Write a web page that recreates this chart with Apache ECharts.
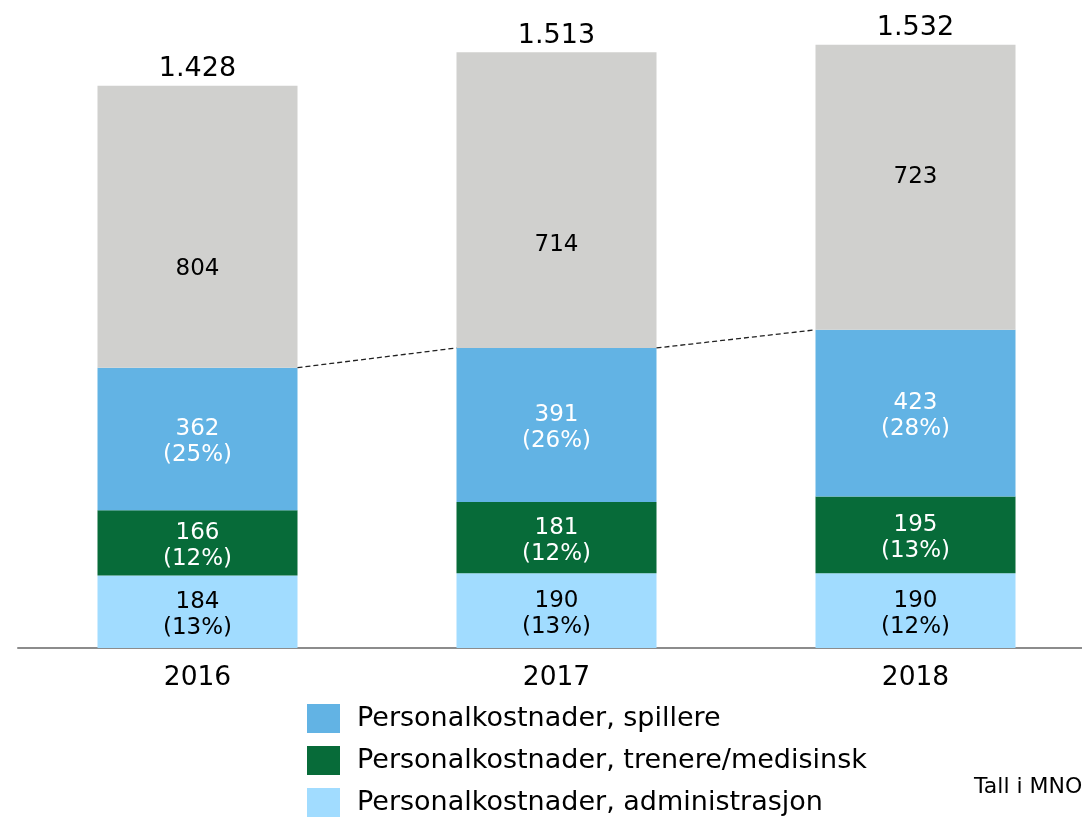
<!DOCTYPE html>
<html>
<head>
<meta charset="utf-8">
<script src="https://cdn.jsdelivr.net/npm/echarts@6/dist/echarts.min.js"></script>
<style>
html,body{margin:0;padding:0;background:#fff;}
#chart{width:1082px;height:820px;}
</style>
</head>
<body>
<div id="chart"></div>
<script>
// ---- data ----
const years = ['2016', '2017', '2018'];
const totals = [1428, 1513, 1532];
const admin = [184, 190, 190];
const adminPct = [13, 13, 12];
const trenere = [166, 181, 195];
const trenerePct = [12, 12, 13];
const spillere = [362, 391, 423];
const spillerePct = [25, 26, 28];
const otherLabels = [804, 714, 723];

const NAME_SP = 'Personalkostnader, spillere';
const NAME_TR = 'Personalkostnader, trenere/medisinsk';
const NAME_AD = 'Personalkostnader, administrasjon';

// ---- styling constants ----
const FONT = 'DejaVu Sans';
const BAR_W = 200;
const otherLabelOffsets = [42, 45, -10];

const other = totals.map((t, i) => t - admin[i] - trenere[i] - spillere[i]);
const cumSpillere = totals.map((t, i) => admin[i] + trenere[i] + spillere[i]);

function fmtThousands(n) {
  return String(n).replace(/\B(?=(\d{3})+(?!\d))/g, '.');
}

function segLabel(color, pcts) {
  return {
    show: true,
    position: 'inside',
    offset: [0, 3],
    color: color,
    fontFamily: FONT,
    fontSize: 23,
    lineHeight: 26,
    formatter: p => p.value + '\n(' + pcts[p.dataIndex] + '%)'
  };
}

const connectorData = [];
for (let i = 1; i < years.length; i++) {
  connectorData.push([i, cumSpillere[i - 1], cumSpillere[i]]);
}
const totalData = totals.map((t, i) => [i, t]);

const chart = echarts.init(document.getElementById('chart'), null, {renderer: 'canvas'});
chart.setOption({
  animation: false,
  backgroundColor: '#ffffff',
  grid: {left: 18, top: 18, width: 1077, height: 630, containLabel: false, outerBoundsMode: 'none'},
  xAxis: {
    type: 'category',
    data: years,
    axisLine: {show: true, lineStyle: {color: '#8c8c8c', width: 2}},
    axisTick: {show: false},
    axisLabel: {color: '#000', fontFamily: FONT, fontSize: 26.5, margin: 17}
  },
  yAxis: {type: 'value', min: 0, max: 1600, show: false, splitLine: {show: false}},
  legend: {
    orient: 'vertical',
    left: 307,
    top: 704,
    height: 130,
    padding: 0,
    itemWidth: 33,
    itemHeight: 29,
    itemGap: 13,
    icon: 'rect',
    selectedMode: false,
    data: [NAME_SP, NAME_TR, NAME_AD],
    textStyle: {color: '#000', fontFamily: FONT, fontSize: 27, lineHeight: 29, padding: [0, 0, 0, 12]}
  },
  graphic: [{
    type: 'text',
    left: 974,
    top: 776,
    style: {text: 'Tall i MNO', fill: '#000', font: '22px "DejaVu Sans"'}
  }],
  series: [
    {
      name: NAME_AD, type: 'bar', stack: 'a', barWidth: BAR_W,
      itemStyle: {color: '#a1dcff'},
      data: admin,
      label: segLabel('#000', adminPct)
    },
    {
      name: NAME_TR, type: 'bar', stack: 'a', barWidth: BAR_W,
      itemStyle: {color: '#076b39'},
      data: trenere,
      label: segLabel('#ffffff', trenerePct)
    },
    {
      name: NAME_SP, type: 'bar', stack: 'a', barWidth: BAR_W,
      itemStyle: {color: '#62b3e4'},
      data: spillere,
      label: segLabel('#ffffff', spillerePct)
    },
    {
      name: 'Annet', type: 'bar', stack: 'a', barWidth: BAR_W,
      itemStyle: {color: '#d0d0ce'},
      data: other.map((v, i) => ({
        value: v,
        label: {offset: [0, otherLabelOffsets[i]]}
      })),
      label: {
        show: true, position: 'inside', color: '#000', fontFamily: FONT, fontSize: 23,
        formatter: p => String(otherLabels[p.dataIndex])
      }
    },
    {
      name: 'Totals', type: 'custom', silent: true, z: 5,
      data: totalData,
      renderItem: function (params, api) {
        const p = api.coord([api.value(0), api.value(1)]);
        return {
          type: 'text',
          x: p[0], y: p[1] - 3,
          style: {
            text: fmtThousands(api.value(1)),
            fill: '#000',
            font: '27px "DejaVu Sans"',
            align: 'center',
            verticalAlign: 'bottom'
          }
        };
      }
    },
    {
      name: 'Connectors', type: 'custom', silent: true, z: 6,
      data: connectorData,
      renderItem: function (params, api) {
        const i = api.value(0);
        const p1 = api.coord([i - 1, api.value(1)]);
        const p2 = api.coord([i, api.value(2)]);
        return {
          type: 'line',
          shape: {x1: p1[0] + BAR_W / 2, y1: p1[1], x2: p2[0] - BAR_W / 2, y2: p2[1]},
          style: {stroke: '#222', lineWidth: 1.3, lineDash: [5, 3]}
        };
      }
    }
  ]
});
</script>
</body>
</html>
